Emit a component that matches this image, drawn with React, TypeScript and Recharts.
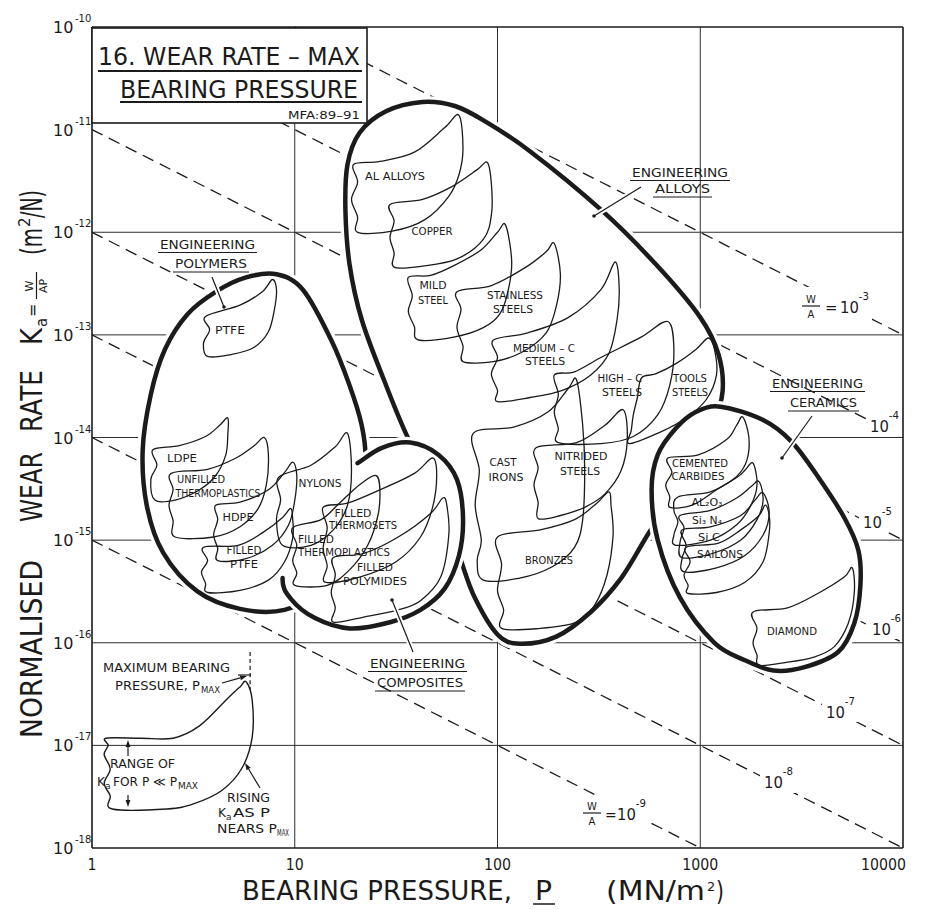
import React from 'react';
import { ScatterChart, Scatter, XAxis, YAxis, CartesianGrid } from 'recharts';

// every point is [log10 P (MN/m2), log10 Ka (m2/N)]
type XY = [number, number];

const INK = '#1b1b1b';
const FONT = '"DejaVu Sans", "Liberation Sans", sans-serif';

// --- axes ---
const X_DECADES = [0, 1, 2, 3, 4];
const Y_DECADES = [-18, -17, -16, -15, -14, -13, -12, -11, -10];
const GRID_X = [1, 2, 3];
const GRID_Y = [-17, -16, -15, -14, -13, -12];
const MINOR_X = [0, 1, 2, 3].flatMap((d) => [2, 3, 4, 5, 6, 7, 8, 9].map((k) => d + Math.log10(k)));

// --- lines of constant W/A (dashed) ---
const WA_1E3: XY[] = [[1, -10], [4, -13]];
const WA_1E4: XY[] = [[0, -10], [4, -14]];
const WA_1E5: XY[] = [[0, -11], [4, -15]];
const WA_1E6: XY[] = [[0, -12], [4, -16]];
const WA_1E7: XY[] = [[0, -13], [4, -17]];
const WA_1E8: XY[] = [[0, -14], [4, -18]];
const WA_1E9: XY[] = [[0, -15], [3, -18]];

// --- class envelopes (heavy outlines) ---
const ALLOYS_ENVELOPE: XY[] = [
  [1.63, -10.73], [1.79, -10.77], [1.94, -10.92], [2.16, -11.21], [2.51, -11.78], [2.78, -12.31],
  [3.0, -12.83], [3.09, -13.19], [3.11, -13.55], [3.06, -13.91], [2.97, -14.24], [2.85, -14.61],
  [2.74, -14.95], [2.61, -15.37], [2.46, -15.7], [2.29, -15.94], [2.11, -16.01], [2.0, -15.92],
  [1.89, -15.57], [1.82, -15.2], [1.74, -14.71], [1.64, -14.32], [1.55, -13.97], [1.44, -13.44],
  [1.33, -12.85], [1.27, -12.31], [1.25, -11.78], [1.26, -11.34], [1.32, -11.03], [1.45, -10.82],
];
const CERAMICS_ENVELOPE: XY[] = [
  [3.1, -13.7], [3.31, -13.83], [3.45, -14.04], [3.58, -14.38], [3.71, -14.78], [3.78, -15.1],
  [3.79, -15.44], [3.76, -15.81], [3.68, -16.09], [3.51, -16.24], [3.36, -16.27], [3.22, -16.17],
  [3.07, -16.0], [2.9, -15.56], [2.79, -15.0], [2.76, -14.51], [2.79, -14.17], [2.88, -13.91], [2.98, -13.75],
];
const POLYMERS_ENVELOPE: XY[] = [
  [0.91, -12.41], [1.04, -12.56], [1.18, -13.05], [1.27, -13.49], [1.33, -13.88], [1.35, -14.22],
  [1.33, -14.66], [1.25, -15.12], [1.12, -15.49], [0.95, -15.68], [0.73, -15.67], [0.52, -15.5],
  [0.35, -15.12], [0.27, -14.66], [0.25, -14.12], [0.29, -13.58], [0.36, -13.14], [0.47, -12.8],
  [0.61, -12.58], [0.76, -12.44],
];
const COMPOSITES_ENVELOPE: XY[] = [
  [1.31, -14.25], [1.43, -14.1], [1.57, -14.05], [1.71, -14.17], [1.8, -14.41], [1.83, -14.78],
  [1.81, -15.15], [1.74, -15.47], [1.62, -15.68], [1.47, -15.8], [1.27, -15.86], [1.1, -15.76],
  [0.98, -15.57], [0.94, -15.37], [0.99, -15.0], [1.1, -14.61], [1.2, -14.39],
];

// --- individual materials (thin outlines) ---
const AL_ALLOYS: XY[] = [
  [1.31, -12.0], [1.48, -11.99], [1.64, -11.88], [1.76, -11.65], [1.81, -11.44], [1.83, -11.19],
  [1.81, -10.86], [1.74, -10.98], [1.59, -11.22], [1.42, -11.31], [1.29, -11.34], [1.31, -11.51],
  [1.28, -11.68], [1.31, -11.85],
];
const COPPER: XY[] = [
  [1.49, -12.34], [1.63, -12.33], [1.8, -12.26], [1.93, -12.07], [1.97, -11.83], [1.97, -11.53],
  [1.95, -11.32], [1.9, -11.39], [1.78, -11.55], [1.63, -11.68], [1.47, -11.73], [1.49, -11.89],
  [1.47, -12.05], [1.49, -12.2],
];
const MILD_STEEL: XY[] = [
  [1.61, -13.05], [1.79, -13.02], [1.93, -12.93], [2.01, -12.8], [2.05, -12.59], [2.07, -12.29],
  [2.04, -11.93], [2.0, -12.0], [1.92, -12.17], [1.79, -12.32], [1.67, -12.42], [1.56, -12.44],
  [1.58, -12.62], [1.56, -12.77], [1.59, -12.92],
];
const STAINLESS_STEELS: XY[] = [
  [1.83, -13.26], [1.98, -13.26], [2.12, -13.17], [2.24, -12.98], [2.29, -12.72], [2.31, -12.41],
  [2.28, -12.11], [2.24, -12.19], [2.14, -12.34], [1.97, -12.52], [1.8, -12.58], [1.82, -12.75],
  [1.8, -12.93], [1.83, -13.11],
];
const MEDIUM_C_STEELS: XY[] = [
  [2.0, -13.65], [2.16, -13.61], [2.32, -13.54], [2.46, -13.39], [2.55, -13.18], [2.59, -12.85],
  [2.6, -12.54], [2.58, -12.29], [2.51, -12.56], [2.35, -12.83], [2.15, -12.98], [1.98, -13.05],
  [2.0, -13.22], [1.97, -13.38], [2.0, -13.54],
];
const HIGH_C_STEELS: XY[] = [
  [2.3, -14.05], [2.51, -14.06], [2.67, -13.99], [2.79, -13.78], [2.85, -13.49], [2.87, -13.14],
  [2.84, -12.87], [2.71, -13.02], [2.51, -13.22], [2.38, -13.36], [2.28, -13.39], [2.3, -13.58],
  [2.28, -13.75], [2.3, -13.91],
];
const TOOL_STEELS: XY[] = [
  [2.65, -14.06], [2.8, -13.95], [2.93, -13.81], [3.03, -13.63], [3.08, -13.39], [3.07, -13.14],
  [3.04, -13.03], [2.98, -13.14], [2.88, -13.28], [2.78, -13.38], [2.71, -13.42], [2.69, -13.61],
  [2.67, -13.78], [2.66, -13.93],
];
const CAST_IRONS: XY[] = [
  [1.93, -15.39], [2.11, -15.37], [2.27, -15.26], [2.38, -15.07], [2.42, -14.8], [2.43, -14.32],
  [2.42, -13.88], [2.39, -13.44], [2.35, -13.52], [2.25, -13.75], [2.08, -13.9], [1.88, -13.96],
  [1.91, -14.32], [1.89, -14.66], [1.92, -15.0], [1.9, -15.2],
];
const NITRIDED_STEELS: XY[] = [
  [2.2, -14.79], [2.31, -14.76], [2.43, -14.68], [2.53, -14.55], [2.61, -14.32], [2.64, -14.02],
  [2.62, -13.73], [2.53, -13.88], [2.39, -14.05], [2.19, -14.1], [2.2, -14.3], [2.18, -14.46], [2.2, -14.63],
];
const BRONZES: XY[] = [
  [2.02, -15.86], [2.21, -15.86], [2.39, -15.8], [2.48, -15.63], [2.54, -15.34], [2.57, -14.95],
  [2.56, -14.66], [2.55, -14.53], [2.49, -14.64], [2.38, -14.8], [2.21, -14.9], [2.0, -14.97],
  [2.02, -15.24], [2.0, -15.49], [2.03, -15.68],
];
const PTFE: XY[] = [
  [0.57, -13.21], [0.69, -13.19], [0.8, -13.12], [0.87, -12.97], [0.9, -12.75], [0.91, -12.56],
  [0.89, -12.46], [0.84, -12.58], [0.73, -12.71], [0.56, -12.82], [0.58, -12.95], [0.55, -13.08],
];
const LDPE: XY[] = [
  [0.31, -14.61], [0.41, -14.61], [0.53, -14.51], [0.61, -14.37], [0.66, -14.17], [0.67, -13.97],
  [0.67, -13.81], [0.63, -13.88], [0.56, -13.99], [0.43, -14.08], [0.3, -14.12], [0.32, -14.27], [0.29, -14.41],
];
const UNFILLED_THERMOPLASTICS: XY[] = [
  [0.41, -14.97], [0.6, -14.97], [0.73, -14.87], [0.82, -14.69], [0.86, -14.46], [0.87, -14.17],
  [0.85, -14.0], [0.8, -14.08], [0.71, -14.2], [0.57, -14.31], [0.39, -14.35], [0.4, -14.51],
  [0.38, -14.66], [0.4, -14.81],
];
const HDPE: XY[] = [
  [0.62, -15.2], [0.76, -15.18], [0.89, -15.05], [0.97, -14.85], [1.0, -14.61], [1.01, -14.37],
  [0.99, -14.24], [0.95, -14.34], [0.87, -14.51], [0.73, -14.63], [0.61, -14.66], [0.62, -14.8],
  [0.6, -14.95], [0.62, -15.08],
];
const FILLED_PTFE: XY[] = [
  [0.57, -15.51], [0.73, -15.49], [0.87, -15.39], [0.95, -15.21], [0.99, -14.98], [0.99, -14.8],
  [0.98, -14.69], [0.94, -14.78], [0.84, -14.93], [0.72, -15.05], [0.55, -15.07], [0.57, -15.2],
  [0.54, -15.31], [0.56, -15.42],
];
const NYLONS: XY[] = [
  [0.94, -15.05], [1.08, -15.05], [1.19, -14.9], [1.26, -14.66], [1.28, -14.32], [1.26, -13.96],
  [1.2, -14.09], [1.08, -14.27], [0.92, -14.39], [0.93, -14.61], [0.91, -14.8],
];
const FILLED_THERMOPLASTICS: XY[] = [
  [1.0, -15.44], [1.16, -15.44], [1.27, -15.29], [1.36, -15.05], [1.41, -14.76], [1.42, -14.51],
  [1.4, -14.37], [1.32, -14.46], [1.22, -14.64], [1.13, -14.8], [0.99, -14.88], [1.01, -15.05],
  [0.99, -15.2], [1.01, -15.32],
];
const FILLED_THERMOSETS: XY[] = [
  [1.15, -15.41], [1.32, -15.36], [1.5, -15.21], [1.62, -14.97], [1.68, -14.68], [1.7, -14.37],
  [1.68, -14.2], [1.59, -14.35], [1.42, -14.51], [1.26, -14.64], [1.14, -14.68], [1.16, -14.88],
  [1.14, -15.08], [1.16, -15.25],
];
const FILLED_POLYMIDES: XY[] = [
  [1.19, -15.8], [1.34, -15.75], [1.51, -15.68], [1.62, -15.59], [1.72, -15.36], [1.76, -14.95],
  [1.75, -14.66], [1.73, -14.59], [1.67, -14.74], [1.51, -14.97], [1.34, -15.13], [1.19, -15.17],
  [1.2, -15.34], [1.18, -15.51], [1.2, -15.66],
];
const CEMENTED_CARBIDES: XY[] = [
  [2.85, -14.68], [2.96, -14.66], [3.08, -14.51], [3.18, -14.38], [3.23, -14.22], [3.24, -14.0],
  [3.21, -13.8], [3.18, -13.88], [3.13, -14.02], [2.99, -14.17], [2.84, -14.2], [2.86, -14.34],
  [2.83, -14.46], [2.85, -14.58],
];
const ALUMINA: XY[] = [
  [2.88, -15.05], [3.05, -15.0], [3.18, -14.85], [3.25, -14.66], [3.28, -14.46], [3.26, -14.25],
  [3.22, -14.32], [3.18, -14.39], [3.05, -14.53], [2.89, -14.58], [2.87, -14.71], [2.89, -14.82], [2.87, -14.95],
];
const SILICON_NITRIDE: XY[] = [
  [2.91, -15.17], [3.06, -15.13], [3.2, -15.0], [3.28, -14.8], [3.31, -14.61], [3.29, -14.43],
  [3.25, -14.48], [3.18, -14.59], [3.05, -14.71], [2.9, -14.76], [2.92, -14.88], [2.9, -15.02],
];
const SILICON_CARBIDE: XY[] = [
  [2.92, -15.31], [3.08, -15.27], [3.22, -15.15], [3.31, -14.95], [3.34, -14.73], [3.31, -14.54],
  [3.27, -14.61], [3.2, -14.76], [3.05, -14.87], [2.91, -14.9], [2.93, -15.05], [2.91, -15.18],
];
const SAILONS: XY[] = [
  [2.94, -15.52], [3.08, -15.51], [3.22, -15.41], [3.31, -15.21], [3.34, -14.93], [3.34, -14.76],
  [3.32, -14.66], [3.29, -14.76], [3.2, -14.9], [3.09, -15.03], [2.93, -15.07], [2.95, -15.21],
  [2.92, -15.34], [2.94, -15.44],
];
const DIAMOND: XY[] = [
  [3.29, -16.22], [3.43, -16.19], [3.56, -16.14], [3.66, -16.04], [3.73, -15.81], [3.76, -15.51],
  [3.75, -15.27], [3.71, -15.36], [3.58, -15.52], [3.43, -15.66], [3.26, -15.7], [3.28, -15.86],
  [3.26, -16.0], [3.28, -16.12],
];

// --- key (schematic) ---
const KEY_BUBBLE: XY[] = [
  [0.07, -16.93], [0.24, -16.93], [0.4, -16.93], [0.53, -16.81], [0.67, -16.54], [0.73, -16.43],
  [0.76, -16.38], [0.79, -16.56], [0.79, -16.92], [0.74, -17.22], [0.64, -17.44], [0.5, -17.57],
  [0.37, -17.62], [0.1, -17.62], [0.09, -17.49], [0.06, -17.37], [0.09, -17.23], [0.06, -17.09], [0.08, -17.0],
];
const KEY_PMAX: XY[] = [[0.78, -16.09], [0.78, -16.46]];

const WA_LINES = [WA_1E3, WA_1E4, WA_1E5, WA_1E6, WA_1E7, WA_1E8, WA_1E9];
const ENVELOPES: { pts: XY[]; segs?: number }[] = [
  { pts: ALLOYS_ENVELOPE },
  { pts: CERAMICS_ENVELOPE },
  { pts: POLYMERS_ENVELOPE },
  { pts: COMPOSITES_ENVELOPE, segs: 13 },
];
const MATERIALS = [
  AL_ALLOYS, COPPER, MILD_STEEL, STAINLESS_STEELS, MEDIUM_C_STEELS, HIGH_C_STEELS, TOOL_STEELS,
  CAST_IRONS, NITRIDED_STEELS, BRONZES, PTFE, LDPE, UNFILLED_THERMOPLASTICS, HDPE, FILLED_PTFE,
  NYLONS, FILLED_THERMOPLASTICS, FILLED_THERMOSETS, FILLED_POLYMIDES, CEMENTED_CARBIDES, ALUMINA,
  SILICON_NITRIDE, SILICON_CARBIDE, SAILONS, DIAMOND,
];

// label text, centre x, baseline y, width (px)
const BUBBLE_LABELS: [string, number, number, number][] = [
  ['AL ALLOYS', 395, 180, 60],
  ['COPPER', 432, 235, 41],
  ['MILD', 433, 289, 27], ['STEEL', 433, 304, 30],
  ['STAINLESS', 515, 299, 56], ['STEELS', 513, 313, 40],
  ['MEDIUM – C', 544, 352, 62], ['STEELS', 545, 365, 40],
  ['HIGH – C', 620, 382, 45], ['STEELS', 622, 396, 40],
  ['TOOLS', 690, 382, 34], ['STEELS', 690, 396, 36],
  ['CAST', 503, 466, 27], ['IRONS', 506, 481, 35],
  ['NITRIDED', 581, 460, 53], ['STEELS', 580, 475, 40],
  ['BRONZES', 549, 564, 48],
  ['PTFE', 230, 334, 30],
  ['LDPE', 182, 462, 30],
  ['UNFILLED', 201, 483, 48], ['THERMOPLASTICS', 218, 497, 85],
  ['HDPE', 238, 521, 31],
  ['FILLED', 244, 554, 35], ['PTFE', 244, 568, 28],
  ['NYLONS', 320, 487, 43],
  ['FILLED', 353, 517, 37], ['THERMOSETS', 363, 529, 68],
  ['FILLED', 316, 543, 36], ['THERMOPLASTICS', 344, 556, 92],
  ['FILLED', 375, 571, 36], ['POLYMIDES', 375, 585, 64],
  ['CEMENTED', 700, 467, 56], ['CARBIDES', 698, 480, 53],
  ['AL₂O₃', 707, 506, 31],
  ['Si₃ N₄', 707, 524, 30],
  ['Si C', 709, 541, 22],
  ['SAILONS', 720, 558, 46],
  ['DIAMOND', 792, 635, 50],
];

// two-line underlined class titles: a/b = [centre x, baseline, width], leader [x1,y1,x2,y2]
const CLASS_LABELS: { l1: string; l2: string; a: number[]; b: number[]; lead: number[] }[] = [
  { l1: 'ENGINEERING', l2: 'POLYMERS', a: [207.5, 249, 95], b: [211, 268, 72], lead: [212, 277, 224, 307] },
  { l1: 'ENGINEERING', l2: 'ALLOYS', a: [680, 177, 96], b: [682.5, 193, 55], lead: [641, 187, 594, 216] },
  { l1: 'ENGINEERING', l2: 'CERAMICS', a: [817.5, 388, 91], b: [823.5, 407, 67], lead: [812, 416, 782, 458] },
  { l1: 'ENGINEERING', l2: 'COMPOSITES', a: [417.5, 668, 95], b: [420, 687, 86], lead: [413, 652, 392, 600] },
];

type Pt = { x: number; y: number };

const rows = (pts: XY[]) => pts.map(([x, y]) => ({ x, y }));

// Catmull-Rom through the projected points
function smoothPath(pts: Pt[], closed: boolean, segs?: number): string {
  const n = pts.length;
  if (n < 2) return '';
  const at = (i: number) => (closed ? pts[(i + n) % n] : pts[Math.max(0, Math.min(n - 1, i))]);
  const total = segs ?? (closed ? n : n - 1);
  let d = `M${pts[0].x.toFixed(1)},${pts[0].y.toFixed(1)}`;
  for (let i = 0; i < total; i++) {
    const p0 = at(i - 1), p1 = at(i), p2 = at(i + 1), p3 = at(i + 2);
    const c1x = p1.x + (p2.x - p0.x) / 6, c1y = p1.y + (p2.y - p0.y) / 6;
    const c2x = p2.x - (p3.x - p1.x) / 6, c2y = p2.y - (p3.y - p1.y) / 6;
    d += ` C${c1x.toFixed(1)},${c1y.toFixed(1)} ${c2x.toFixed(1)},${c2y.toFixed(1)} ${p2.x.toFixed(1)},${p2.y.toFixed(1)}`;
  }
  if (closed && segs === undefined) d += ' Z';
  return d;
}

const NoDot = () => <g />;

const outline =
  (o: { closed: boolean; width: number; fill?: string; halo?: number; dash?: string; segs?: number }) =>
  (props: any) => {
    const pts: Pt[] = props.points || [];
    const fillD = smoothPath(pts, o.closed);
    const strokeD = smoothPath(pts, o.closed, o.segs);
    return (
      <g>
        {o.fill && <path d={fillD} fill={o.fill} stroke="none" />}
        {o.halo && <path d={strokeD} fill="none" stroke="#fff" strokeWidth={o.halo} strokeLinecap="round" />}
        <path
          d={strokeD}
          fill="none"
          stroke={INK}
          strokeWidth={o.width}
          strokeDasharray={o.dash}
          strokeLinejoin="round"
          strokeLinecap={o.dash ? 'butt' : 'round'}
        />
      </g>
    );
  };

const renderXTick = ({ x, y, payload }: any) => {
  const s = String(Math.round(10 ** payload.value));
  const last = payload.value === 4;
  return (
    <text
      x={last ? x + 3 : x}
      y={y + 22}
      textAnchor={last ? 'end' : 'middle'}
      fontSize={16.5}
      fill={INK}
      textLength={s.length * 9}
      lengthAdjust="spacingAndGlyphs"
    >
      {s}
    </text>
  );
};

// "10" and its exponent kept side by side without touching
const renderYTick = ({ x, y, payload }: any) => (
  <g>
    <text x={x - 39} y={y + 6} fontSize={16} fill={INK}>10</text>
    <text x={x - 17} y={y - 5} fontSize={10} fill={INK}>{String(payload.value)}</text>
  </g>
);

const T = ({ x, y, w, size = 10, anchor = 'middle', children }: any) => (
  <text
    x={x}
    y={y}
    fontSize={size}
    textAnchor={anchor}
    fill={INK}
    {...(w ? { textLength: w, lengthAdjust: 'spacingAndGlyphs' } : {})}
  >
    {children}
  </text>
);

// 10^n tag on a W/A line, with white patch to break the dashes
const Power = ({ x, y, exp, bg }: { x: number; y: number; exp: string; bg: number[] }) => (
  <g>
    <rect x={bg[0]} y={bg[1]} width={bg[2]} height={bg[3]} fill="#fff" />
    <text x={x} y={y} fontSize={16} fill={INK} textLength={29} lengthAdjust="spacingAndGlyphs">
      10<tspan dy={-13} fontSize={11}>{exp}</tspan>
    </text>
  </g>
);

const Frac = ({ cx, y }: { cx: number; y: number }) => (
  <g>
    <T x={cx} y={y} size={10}>W</T>
    <line x1={cx - 9} x2={cx + 9} y1={y + 3} y2={y + 3} stroke={INK} strokeWidth={1.2} />
    <T x={cx} y={y + 15} size={10}>A</T>
  </g>
);

const Arrow = ({ x1, y1, x2, y2 }: { x1: number; y1: number; x2: number; y2: number }) => {
  const dx = x2 - x1, dy = y2 - y1;
  const L = Math.hypot(dx, dy) || 1;
  const ux = dx / L, uy = dy / L;
  const bx = x2 - ux * 7, by = y2 - uy * 7;
  return (
    <g>
      <line x1={x1} y1={y1} x2={bx} y2={by} stroke={INK} strokeWidth={1.2} />
      <polygon points={`${x2},${y2} ${bx - uy * 2.4},${by + ux * 2.4} ${bx + uy * 2.4},${by - ux * 2.4}`} fill={INK} />
    </g>
  );
};

export default function App() {
  const axisLine = { stroke: INK, strokeWidth: 1.6 };
  return (
    <div style={{ position: 'absolute', left: 0, top: 0, width: 933, height: 910, background: '#fff', fontFamily: FONT }}>
      <ScatterChart width={933} height={910} margin={{ top: 27, right: 30, bottom: 61, left: 91 }}>
        <CartesianGrid horizontalValues={GRID_Y} verticalValues={GRID_X} stroke="#2e2e2e" strokeWidth={1} />
        <XAxis
          xAxisId="bmin" dataKey="x" type="number" orientation="bottom" domain={[0, 4]} ticks={MINOR_X}
          interval={0} height={1} mirror tick={false} tickSize={7} axisLine={false} tickLine={{ stroke: INK, strokeWidth: 1.2 }}
        />
        <XAxis
          dataKey="x" type="number" domain={[0, 4]} ticks={X_DECADES} interval={0} height={1}
          tickSize={0} tickMargin={0} tickLine={false} axisLine={axisLine} tick={renderXTick}
        />
        <XAxis
          xAxisId="top" dataKey="x" type="number" orientation="top" domain={[0, 4]} ticks={MINOR_X}
          interval={0} height={1} mirror tick={false} tickSize={7} axisLine={axisLine} tickLine={{ stroke: INK, strokeWidth: 1.2 }}
        />
        <YAxis
          dataKey="y" type="number" domain={[-18, -10]} ticks={Y_DECADES} interval={0} width={1}
          tickSize={0} tickMargin={0} tickLine={false} axisLine={axisLine} tick={renderYTick}
        />
        <YAxis
          yAxisId="right" dataKey="y" type="number" orientation="right" domain={[-18, -10]} ticks={Y_DECADES}
          interval={0} width={1} mirror tick={false} tickSize={6} axisLine={axisLine} tickLine={{ stroke: INK, strokeWidth: 1.2 }}
        />

        {WA_LINES.map((l, i) => (
          <Scatter key={`wa${i}`} data={rows(l)} shape={NoDot} isAnimationActive={false}
            line={outline({ closed: false, width: 1.3, dash: '12 7' })} />
        ))}

        {ENVELOPES.map((e, i) => (
          <Scatter key={`env${i}`} data={rows(e.pts)} shape={NoDot} isAnimationActive={false}
            line={outline({ closed: true, width: 4.5, fill: '#fff', halo: 11, segs: e.segs })} />
        ))}

        {MATERIALS.map((m, i) => (
          <Scatter key={`mat${i}`} data={rows(m)} shape={NoDot} isAnimationActive={false}
            line={outline({ closed: true, width: 1.3 })} />
        ))}

        <Scatter data={rows(KEY_BUBBLE)} shape={NoDot} isAnimationActive={false} line={outline({ closed: true, width: 1.4 })} />
        <Scatter data={rows(KEY_PMAX)} shape={NoDot} isAnimationActive={false} line={outline({ closed: false, width: 1.2, dash: '4 3' })} />
      </ScatterChart>

      <svg width={933} height={910} style={{ position: 'absolute', left: 0, top: 0, pointerEvents: 'none' }}>
        {/* title block */}
        <rect x={92} y={28} width={275} height={95} fill="#fff" stroke={INK} strokeWidth={1.6} />
        <T x={98} y={65} w={262} size={24} anchor="start">16. WEAR RATE – MAX</T>
        <rect x={98} y={70} width={264} height={2} fill={INK} />
        <T x={120} y={98} w={238} size={24} anchor="start">BEARING PRESSURE</T>
        <rect x={120} y={101} width={242} height={2} fill={INK} />
        <T x={288} y={119} w={72} size={11} anchor="start">MFA:89–91</T>

        {/* class titles */}
        {CLASS_LABELS.map((c, i) => (
          <g key={`cl${i}`}>
            <line x1={c.lead[0]} y1={c.lead[1]} x2={c.lead[2]} y2={c.lead[3]} stroke="#fff" strokeWidth={5} />
            <line x1={c.lead[0]} y1={c.lead[1]} x2={c.lead[2]} y2={c.lead[3]} stroke={INK} strokeWidth={1.2} />
            <circle cx={c.lead[2]} cy={c.lead[3]} r={1.8} fill={INK} />
            <T x={c.a[0]} y={c.a[1]} w={c.a[2]} size={12.5}>{c.l1}</T>
            <line x1={c.a[0] - c.a[2] / 2 - 2} x2={c.a[0] + c.a[2] / 2 + 2} y1={c.a[1] + 3.5} y2={c.a[1] + 3.5} stroke={INK} strokeWidth={1.2} />
            <T x={c.b[0]} y={c.b[1]} w={c.b[2]} size={12.5}>{c.l2}</T>
            <line x1={c.b[0] - c.b[2] / 2 - 2} x2={c.b[0] + c.b[2] / 2 + 2} y1={c.b[1] + 4} y2={c.b[1] + 4} stroke={INK} strokeWidth={1.2} />
          </g>
        ))}

        {/* material names */}
        {BUBBLE_LABELS.map(([t, x, y, w], i) => (
          <T key={`bl${i}`} x={x} y={y} w={w} size={10}>{t}</T>
        ))}

        {/* W/A values */}
        <rect x={798} y={287} width={74} height={36} fill="#fff" />
        <Frac cx={811} y={303} />
        <T x={825} y={313} size={15} anchor="start">=</T>
        <text x={840} y={313} fontSize={16} fill={INK} textLength={29} lengthAdjust="spacingAndGlyphs">
          10<tspan dy={-13} fontSize={11}>-3</tspan>
        </text>
        <Power x={870} y={432} exp="-4" bg={[866, 407, 34, 29]} />
        <Power x={863} y={528} exp="-5" bg={[859, 503, 38, 29]} />
        <Power x={872} y={635} exp="-6" bg={[868, 610, 33, 29]} />
        <Power x={826} y={718} exp="-7" bg={[822, 692, 36, 30]} />
        <Power x={764} y={788} exp="-8" bg={[760, 764, 36, 29]} />
        <rect x={579} y={796} width={72} height={34} fill="#fff" />
        <Frac cx={592} y={810} />
        <T x={605} y={820} size={14} anchor="start">=</T>
        <text x={617} y={820} fontSize={16} fill={INK} textLength={29} lengthAdjust="spacingAndGlyphs">
          10<tspan dy={-13} fontSize={11}>-9</tspan>
        </text>

        {/* key */}
        <T x={103} y={672} w={127} size={12.5} anchor="start">MAXIMUM BEARING</T>
        <T x={115} y={690} w={85} size={12.5} anchor="start">PRESSURE, P</T>
        <T x={201} y={693} w={19} size={8} anchor="start">MAX</T>
        <line x1={238} y1={675} x2={251} y2={675} stroke={INK} strokeWidth={1.2} />
        <Arrow x1={222} y1={683} x2={247} y2={676} />
        <T x={110} y={768} w={65} size={12.5} anchor="start">RANGE OF</T>
        <T x={97} y={786} w={8} size={12.5} anchor="start">K</T>
        <T x={105} y={789} size={9} anchor="start">a</T>
        <T x={113} y={786} w={64} size={12.5} anchor="start">FOR P ≪ P</T>
        <T x={178} y={789} w={20} size={8} anchor="start">MAX</T>
        <Arrow x1={128} y1={756} x2={128} y2={740} />
        <Arrow x1={128} y1={795} x2={128} y2={807} />
        <T x={227} y={802} w={43} size={12.5} anchor="start">RISING</T>
        <T x={218} y={817} w={8} size={12.5} anchor="start">K</T>
        <T x={226} y={820} size={9} anchor="start">a</T>
        <T x={233} y={817} w={37} size={12.5} anchor="start">AS P</T>
        <T x={217} y={833} w={60} size={12.5} anchor="start">NEARS P</T>
        <T x={277} y={836} w={12} size={8} anchor="start">MAX</T>
        <Arrow x1={260} y1={788} x2={245} y2={763} />

        {/* x axis title */}
        <T x={242} y={900} w={270} size={26} anchor="start">BEARING PRESSURE,</T>
        <T x={535} y={900} w={17} size={26} anchor="start">P</T>
        <line x1={533} x2={555} y1={904} y2={904} stroke={INK} strokeWidth={1.5} />
        <T x={606} y={900} w={99} size={26} anchor="start">(MN/m</T>
        <T x={707} y={891} size={13} anchor="start">2</T>
        <T x={716} y={900} w={8} size={26} anchor="start">)</T>

        {/* y axis title */}
        <g transform="translate(42,738) rotate(-90)">
          <T x={0} y={0} w={178} size={30} anchor="start">NORMALISED</T>
          <T x={216} y={0} w={70} size={30} anchor="start">WEAR</T>
          <T x={306} y={0} w={62} size={30} anchor="start">RATE</T>
          <T x={393} y={0} w={17} size={30} anchor="start">K</T>
          <T x={411} y={5} size={15} anchor="start">a</T>
          <T x={421} y={-4} size={16} anchor="start">=</T>
          <T x={452} y={-9} size={11}>W</T>
          <line x1={439} x2={466} y1={-5.5} y2={-5.5} stroke={INK} strokeWidth={1.2} />
          <T x={452} y={5} size={11}>AP</T>
          <T x={483} y={0} w={27} size={30} anchor="start">(m</T>
          <T x={511} y={-12} size={15} anchor="start">2</T>
          <T x={520} y={0} w={28} size={30} anchor="start">/N)</T>
        </g>
      </svg>
    </div>
  );
}
